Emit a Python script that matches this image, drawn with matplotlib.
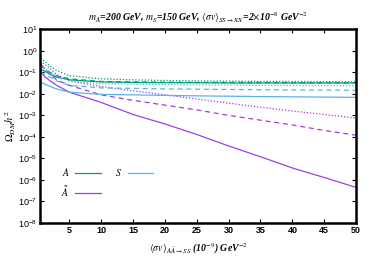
import matplotlib
matplotlib.use('Agg')
import matplotlib.pyplot as plt

plt.rcParams['mathtext.fontset'] = 'stix'
plt.rcParams['font.family'] = 'Liberation Sans'

# x values: <sigma v>_{A Abar -> SS} in 1e-9 GeV^-2
x = [0.5, 1, 2, 3, 5, 10, 15, 20, 25, 30, 35, 40, 45, 50]

# A (green)
A_solid = [0.14, 0.12, 0.08, 0.06, 0.045, 0.036, 0.034, 0.033, 0.033, 0.032, 0.032, 0.032, 0.032, 0.032]
A_dash = [0.2, 0.16, 0.1, 0.07, 0.05, 0.038, 0.036, 0.035, 0.034, 0.034, 0.034, 0.033, 0.033, 0.033]
A_dot = [0.45, 0.35, 0.2, 0.12, 0.07, 0.05, 0.045, 0.042, 0.040, 0.039, 0.038, 0.038, 0.037, 0.037]

# Abar (purple)
Ab_solid = [0.12, 0.07, 0.04, 0.025, 0.012, 0.004, 1.1e-3, 4e-4, 1.3e-4, 3.8e-5, 1.2e-5, 3.6e-6, 1.3e-6, 4.5e-7]
Ab_dash = [0.25, 0.16, 0.08, 0.045, 0.025, 0.009, 0.005, 0.003, 0.0018, 0.001, 6e-4, 3.6e-4, 2e-4, 1.2e-4]
Ab_dot = [0.35, 0.25, 0.15, 0.08, 0.04, 0.022, 0.014, 0.009, 0.0058, 0.0037, 0.0024, 0.0016, 0.0011, 7.5e-4]

# S (light blue)
S_solid = [0.033, 0.03, 0.022, 0.017, 0.012, 0.0095, 0.009, 0.0085, 0.0081, 0.0078, 0.0075, 0.0073, 0.0071, 0.0069]
S_dash = [0.1, 0.085, 0.06, 0.04, 0.025, 0.019, 0.018, 0.017, 0.0165, 0.016, 0.0157, 0.0153, 0.015, 0.0148]
S_dot = [0.2, 0.16, 0.1, 0.065, 0.04, 0.03, 0.028, 0.027, 0.026, 0.0255, 0.025, 0.0245, 0.024, 0.024]

green = '#009e73'
purple = '#a33de3'
blue = '#56b4e9'

fig = plt.figure(figsize=(3.74, 2.62), dpi=100)
ax = fig.add_axes([0.107, 0.149, 0.845, 0.739])

lw = 0.9
ax.plot(x, A_solid, color=green, lw=lw, label=r'$\mathit{A}$')
ax.plot(x, A_dash, color=green, lw=lw, ls=(0, (4, 3)))
ax.plot(x, A_dot, color=green, lw=lw, ls=(0, (1, 1.5)))
ax.plot(x, Ab_solid, color=purple, lw=lw, label=r'$\tilde{\mathit{A}}$')
ax.plot(x, Ab_dash, color=purple, lw=lw, ls=(0, (4, 3)))
ax.plot(x, Ab_dot, color=purple, lw=lw, ls=(0, (1, 1.5)))
ax.plot(x, S_solid, color=blue, lw=lw, label=r'$\mathit{S}$')
ax.plot(x, S_dash, color=blue, lw=lw, ls=(0, (4, 3)))
ax.plot(x, S_dot, color=blue, lw=lw, ls=(0, (1, 1.5)))

ax.set_yscale('log')
ax.set_xlim(0.4, 50)
ax.set_ylim(1e-8, 10)
ax.set_xticks(range(5, 51, 5))
ax.set_yticks([10.0 ** k for k in range(-8, 2)])
ax.minorticks_off()
ax.tick_params(direction='in', top=True, right=True, labelsize=6.5, length=3, width=0.8, pad=2)
for lab in ax.get_xticklabels():
    lab.set_fontweight('bold')
for s in ax.spines.values():
    s.set_linewidth(1.8)

ax.set_title(r'$\mathit{m_A}$=200 GeV, $\mathit{m_S}$=150 GeV, $\langle\sigma v\rangle_{SS\rightarrow XX}$=2$\times$10$^{-8}$ GeV$^{-2}$',
             fontsize=7, family='Liberation Serif', style='italic', weight='bold', pad=6)
ax.set_xlabel(r'$\langle\sigma v\rangle_{A\tilde{A}\rightarrow SS}$ (10$^{-9}$) GeV$^{-2}$',
              fontsize=7, family='Liberation Serif', style='italic', weight='bold', labelpad=5)
ax.set_ylabel(r'$\Omega_{DM}h^2$', fontsize=7.5, labelpad=0)

leg = ax.legend(ncol=2, loc='lower left', bbox_to_anchor=(0.04, 0.08), frameon=False,
                fontsize=7, handlelength=2.6, markerfirst=False, columnspacing=1.5,
                labelspacing=0.6, handletextpad=0.6)

fig.savefig('out.png', dpi=100)
